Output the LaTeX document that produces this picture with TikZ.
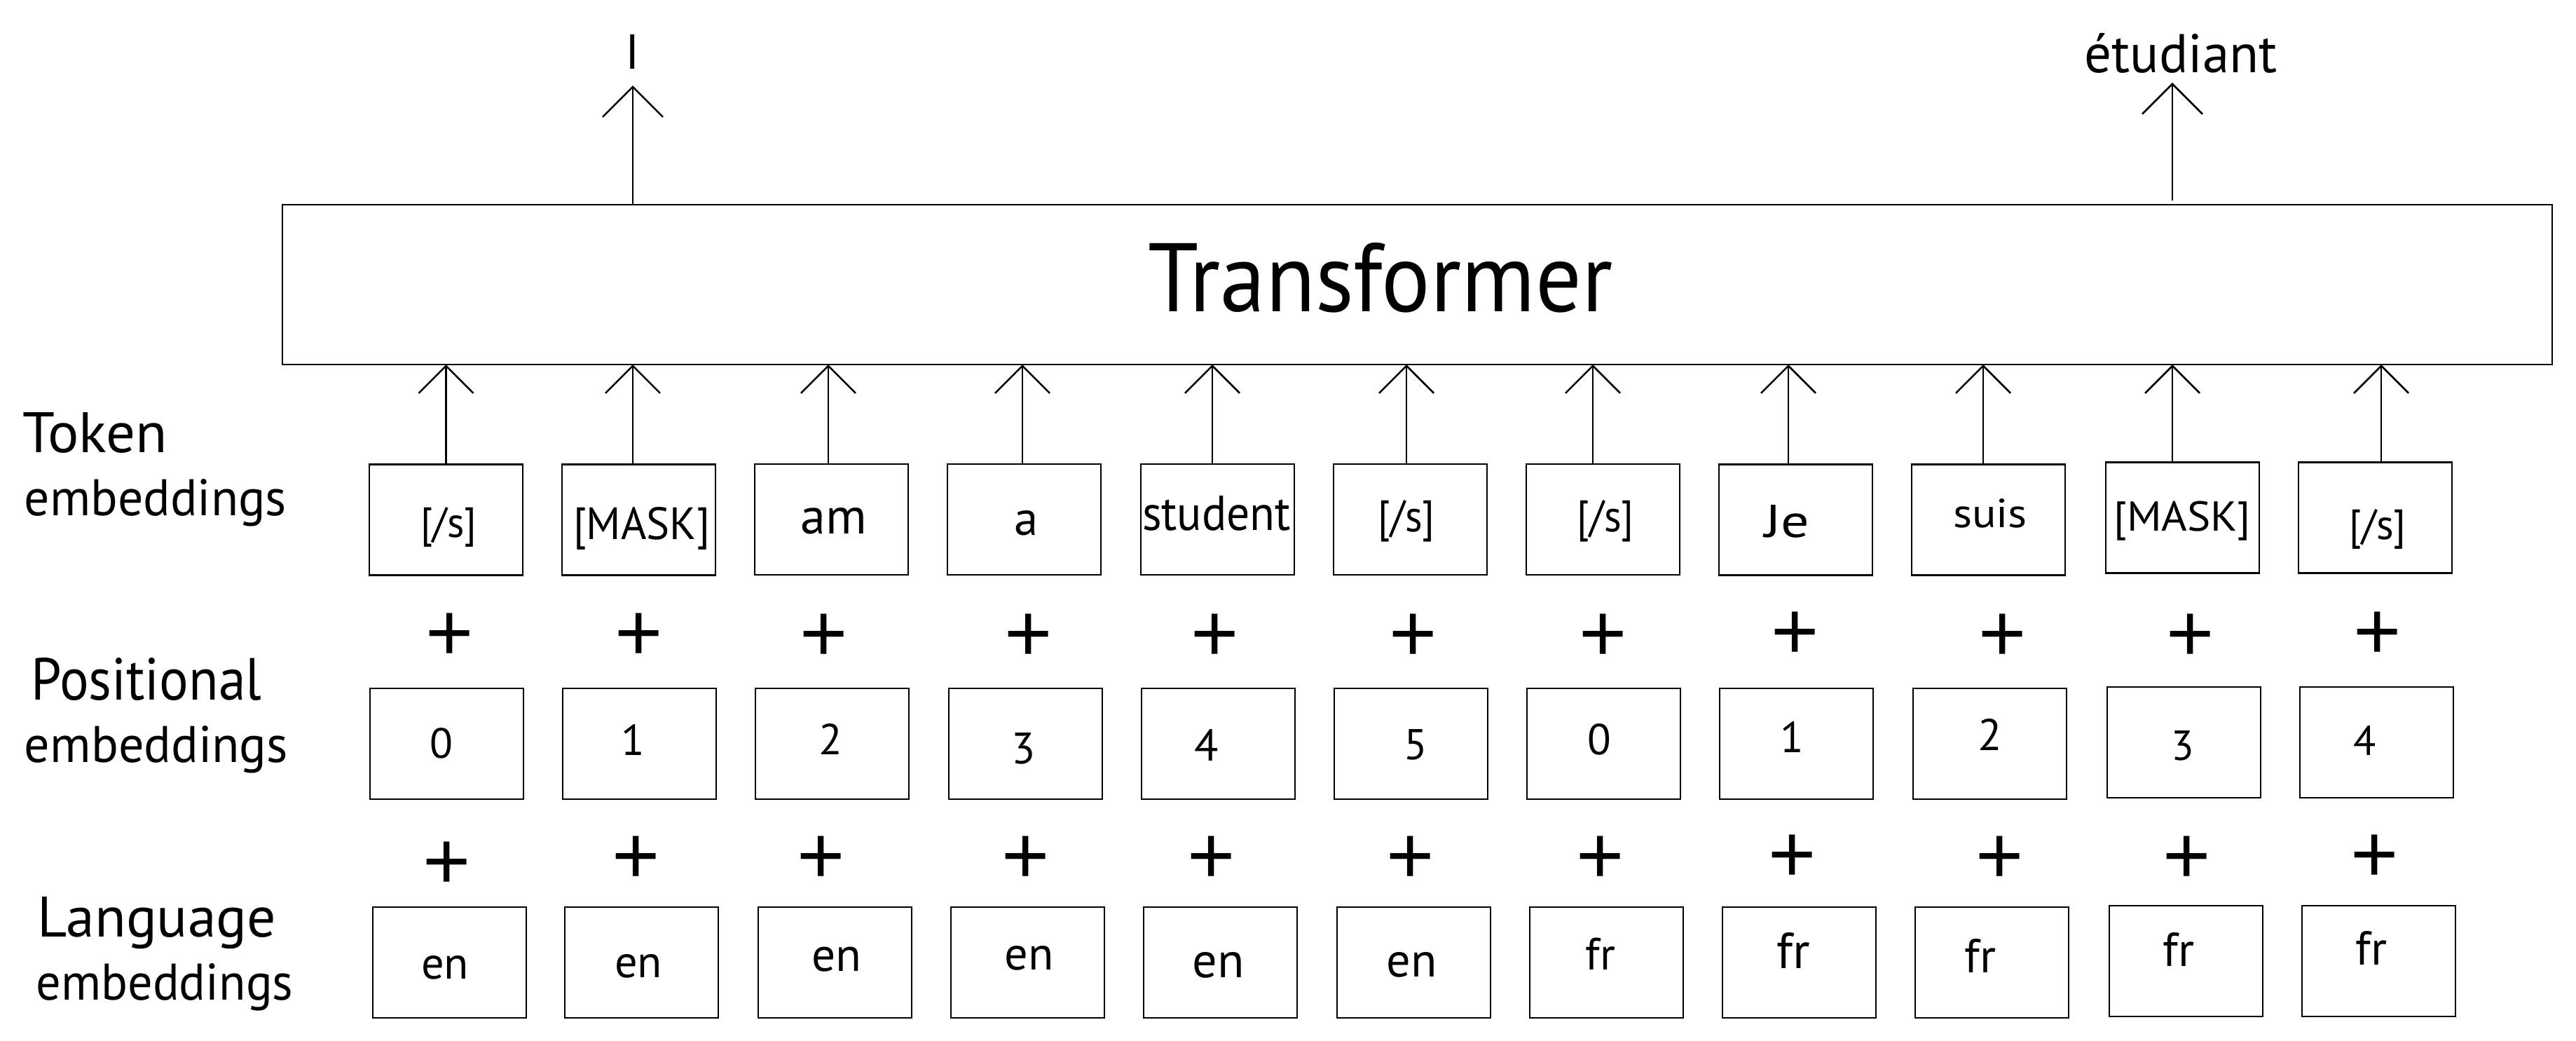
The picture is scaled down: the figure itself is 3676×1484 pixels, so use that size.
\documentclass[tikz,border=0pt]{standalone}
\usepackage{fontspec}
\setmainfont{PT Sans}
\newfontfamily\plusfont{Liberation Sans}
\usetikzlibrary{arrows.meta,calc}
\newdimen\pxu \pxu=0.2pt
\newcommand\fw[3]{\resizebox{#1\pxu}{#2\pxu}{#3}}
\newcommand\fh[2]{\resizebox{!}{#1\pxu}{#2}}
\begin{document}
\begin{tikzpicture}[x=0.2pt,y=-0.2pt,
  box/.style={draw, line width=0.52pt, minimum width=43.8pt, minimum height=31.6pt, inner sep=0pt, outer sep=0pt},
  txt/.style={inner sep=0pt, outer sep=0pt, anchor=base},
  plus/.style={inner sep=0pt, outer sep=0pt, yshift=-1.4pt, font=\plusfont\fontsize{23.4pt}{23.4pt}\selectfont},
  arr/.style={line width=0.52pt, -{Straight Barb[length=7.8pt,width=15.6pt]}},
  arrtop/.style={line width=0.52pt, -{Straight Barb[length=8.6pt,width=17.2pt]}}]
\useasboundingbox[fill=white] (0,0) rectangle (3676,1484);

% Transformer
\node[draw, line width=0.52pt, minimum width=647.8pt, minimum height=45.6pt, inner sep=0pt, outer sep=0pt] (tr) at (2022.5,406) {};
\node[txt] (trt) at (1970,444) {\fw{662}{98}{Transformer}};

% outputs
\node[txt] (oI) at (903,98) {\fh{49}{I}};
\node[txt] (oE) at (3112,103) {\fw{275}{56}{étudiant}};
\draw[arrtop] (oI.south |- tr.north) -- ($(oI.south)+(0,24)$);
\draw[arrtop] ($(oE.south |- tr.north)+(-12,-6)$) -- ($(oE.south)+(-12,14)$);

% left labels
\node[txt] (lt1) at (136,645) {\fw{206}{57}{Token}};
\node[txt] (lt2) at (222,735) {\fw{374}{52}{embeddings}};
\node[txt] (lp1) at (209,998) {\fw{329}{60}{Positional}};
\node[txt] (lp2) at (223,1087) {\fw{376}{52}{embeddings}};
\node[txt] (ll1) at (224,1336) {\fw{340}{57}{Language}};
\node[txt] (ll2) at (235,1426) {\fw{367}{52}{embeddings}};

% token boxes
\node[box] (t1) at (636.5,741.5) {};
\node[box] (t2) at (911.5,741.5) {};
\node[box] (t3) at (1186.5,741) {};
\node[box] (t4) at (1461.5,741) {};
\node[box] (t5) at (1737.5,741) {};
\node[box] (t6) at (2012.5,741) {};
\node[box] (t7) at (2287.5,741) {};
\node[box] (t8) at (2562.5,741.5) {};
\node[box] (t9) at (2837.5,741.5) {};
\node[box] (t10) at (3114.5,738.5) {};
\node[box] (t11) at (3389.5,738.5) {};

\node[txt] (t1l) at (640,766) {\fw{80}{43}{[/s]}};
\node[txt] (t2l) at (915.5,769) {\fw{195}{46}{[MASK]}};
\node[txt] (t3l) at (1190,761) {\fh{37}{am}};
\node[txt] (t4l) at (1465,763) {\fh{35}{a}};
\node[txt] (t5l) at (1736,756) {\fw{212}{49}{student}};
\node[txt] (t6l) at (2007,758) {\fw{81}{45}{[/s]}};
\node[txt] (t7l) at (2291,758) {\fw{81}{45}{[/s]}};
\node[txt] (t8l) at (2550,766) {\fw{64}{46}{Je}};
\node[txt] (t9l) at (2840,752) {\fw{106}{41}{suis}};
\node[txt] (t10l) at (3114,757) {\fw{196}{42.5}{[MASK]}};
\node[txt] (t11l) at (3393,769) {\fw{81}{43}{[/s]}};

% input arrows
\foreach \n/\dx in {1/0,2/-8.5,3/-4.5,4/-2.5,5/-7.5,6/-5.5,7/-14.5,8/-10.5,9/-7.5,10/-14.5,11/8.5}{
  \coordinate (s\n) at ($(t\n.north)+(\dx,0)$);
  \draw[arr] (s\n) -- (s\n |- tr.south);
}

% plus row 1
\node[plus] (a1) at (642,902) {+};
\node[plus] (a2) at (912,902) {+};
\node[plus] (a3) at (1176,903) {+};
\node[plus] (a4) at (1468,903) {+};
\node[plus] (a5) at (1734,903) {+};
\node[plus] (a6) at (2017,903) {+};
\node[plus] (a7) at (2288,903) {+};
\node[plus] (a8) at (2562,900) {+};
\node[plus] (a9) at (2858,903) {+};
\node[plus] (a10) at (3126,903) {+};
\node[plus] (a11) at (3393,900) {+};

% positional boxes
\node[box] (p1) at (637.5,1061) {};
\node[box] (p2) at (912.5,1061) {};
\node[box] (p3) at (1187.5,1061) {};
\node[box] (p4) at (1463.5,1061) {};
\node[box] (p5) at (1738.5,1061) {};
\node[box] (p6) at (2013.5,1061) {};
\node[box] (p7) at (2288.5,1061) {};
\node[box] (p8) at (2563.5,1061) {};
\node[box] (p9) at (2839.5,1061) {};
\node[box] (p10) at (3116.5,1059) {};
\node[box] (p11) at (3391.5,1059) {};

\node[txt] (p1l) at (630,1081) {\fh{43}{0}};
\node[txt] (p2l) at (903,1077) {\fh{44}{1}};
\node[txt] (p3l) at (1185,1076) {\fh{44}{2}};
\node[txt] (p4l) at (1461,1089) {\fh{44}{3}};
\node[txt] (p5l) at (1722,1085) {\fh{45}{4}};
\node[txt] (p6l) at (2020,1083) {\fh{43}{5}};
\node[txt] (p7l) at (2282,1076) {\fh{44}{0}};
\node[txt] (p8l) at (2557,1073) {\fh{44}{1}};
\node[txt] (p9l) at (2840,1070) {\fh{45}{2}};
\node[txt] (p10l) at (3115,1084) {\fh{42}{3}};
\node[txt] (p11l) at (3375,1077) {\fh{42}{4}};

% plus row 2
\node[plus] (b1) at (638,1228) {+};
\node[plus] (b2) at (908,1220) {+};
\node[plus] (b3) at (1172,1220) {+};
\node[plus] (b4) at (1464,1220) {+};
\node[plus] (b5) at (1729,1220) {+};
\node[plus] (b6) at (2013,1220) {+};
\node[plus] (b7) at (2284,1220) {+};
\node[plus] (b8) at (2558,1218) {+};
\node[plus] (b9) at (2854,1220) {+};
\node[plus] (b10) at (3121,1220) {+};
\node[plus] (b11) at (3389,1218) {+};

% language boxes
\node[box] (l1) at (641.5,1373) {};
\node[box] (l2) at (915.5,1373) {};
\node[box] (l3) at (1191.5,1373) {};
\node[box] (l4) at (1466.5,1373) {};
\node[box] (l5) at (1741.5,1373) {};
\node[box] (l6) at (2017.5,1373) {};
\node[box] (l7) at (2292.5,1373) {};
\node[box] (l8) at (2567.5,1373) {};
\node[box] (l9) at (2842.5,1373) {};
\node[box] (l10) at (3119.5,1371) {};
\node[box] (l11) at (3394.5,1371) {};

\node[txt] (l1l) at (635,1396) {\fh{33}{en}};
\node[txt] (l2l) at (911,1394) {\fh{33}{en}};
\node[txt] (l3l) at (1194,1385.5) {\fh{34.5}{en}};
\node[txt] (l4l) at (1469,1383) {\fh{34}{en}};
\node[txt] (l5l) at (1739,1394) {\fh{36}{en}};
\node[txt] (l6l) at (2015,1393) {\fh{35}{en}};
\node[txt] (l7l) at (2284,1383) {\fh{45.5}{fr}};
\node[txt] (l8l) at (2559,1381) {\fh{51}{fr}};
\node[txt] (l9l) at (2826,1387) {\fh{48}{fr}};
\node[txt] (l10l) at (3109,1378) {\fh{48}{fr}};
\node[txt] (l11l) at (3384,1376) {\fh{48}{fr}};
\end{tikzpicture}
\end{document}
